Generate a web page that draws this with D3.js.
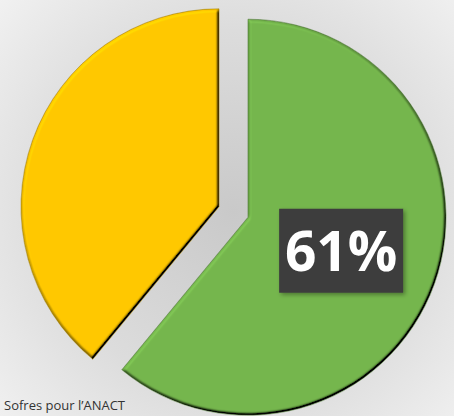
<!DOCTYPE html>
<html><head><meta charset="utf-8">
<script src="https://cdn.jsdelivr.net/npm/d3@7"></script>
<style>html,body{margin:0;padding:0;background:#eee;}svg{display:block;}</style>
</head><body>
<script>
const categories = ["Oui", "Non"];
const values = [61, 39];
const labels = ["61%", ""];
const colors = ["#75b64d", "#ffc800"];
const source = "Sofres pour l\u2019ANACT";

const W = 454, H = 416;
const cx = 233.5, cy = 212, R = 198, explode = 15.4;

const svg = d3.select("body").append("svg").attr("width", W).attr("height", H);
const defs = svg.append("defs");
const bg = defs.append("radialGradient").attr("id", "bg").attr("gradientUnits", "userSpaceOnUse")
  .attr("cx", cx).attr("cy", cy).attr("r", 330);
bg.append("stop").attr("offset", "0").attr("stop-color", "#c9c9c9");
bg.append("stop").attr("offset", "0.55").attr("stop-color", "#dcdcdc");
bg.append("stop").attr("offset", "1").attr("stop-color", "#f3f3f3");

const f = defs.append("filter").attr("id", "bevel").attr("x", "-10%").attr("y", "-10%").attr("width", "120%").attr("height", "120%");
f.append("feGaussianBlur").attr("in", "SourceAlpha").attr("stdDeviation", 1.8).attr("result", "blur");
f.append("feDiffuseLighting").attr("in", "blur").attr("surfaceScale", 5).attr("diffuseConstant", 1)
  .attr("lighting-color", "#fff").attr("result", "light")
  .append("feDistantLight").attr("azimuth", 235).attr("elevation", 55);
f.append("feComposite").attr("in", "SourceGraphic").attr("in2", "light").attr("operator", "arithmetic")
  .attr("k1", 1 / Math.sin(55 * Math.PI / 180)).attr("k2", 0).attr("k3", 0).attr("k4", 0).attr("result", "lit");
f.append("feComposite").attr("in", "lit").attr("in2", "SourceAlpha").attr("operator", "in");

const sh = defs.append("filter").attr("id", "shadow").attr("x", "-20%").attr("y", "-20%").attr("width", "140%").attr("height", "140%");
sh.append("feDropShadow").attr("dx", 2).attr("dy", 2).attr("stdDeviation", 2).attr("flood-color", "#000").attr("flood-opacity", 0.35);

svg.append("rect").attr("width", W).attr("height", H).attr("fill", "url(#bg)");

const pie = d3.pie().sort(null).value(d => d)(values);
const arc = d3.arc().innerRadius(0).outerRadius(R);

const g = svg.append("g").attr("transform", `translate(${cx},${cy})`);
const slices = g.selectAll("g.slice").data(pie).join("g").attr("class", "slice")
  .attr("transform", d => {
    const a = (d.startAngle + d.endAngle) / 2;
    return `translate(${Math.sin(a) * explode},${-Math.cos(a) * explode})`;
  });
slices.append("path").attr("d", arc).attr("fill", (d, i) => colors[i])
  .attr("filter", "url(#bevel)");
slices.append("path").attr("d", arc).attr("fill", "none")
  .attr("stroke", (d, i) => d3.color(colors[i]).darker(1.2)).attr("stroke-width", 0.8).attr("stroke-opacity", 0.7);

const lab = slices.filter((d, i) => labels[i]).append("g")
  .attr("transform", d => `translate(${arc.centroid(d)})`);
lab.append("rect").attr("x", -62).attr("y", -42).attr("width", 124).attr("height", 84)
  .attr("fill", "#3d3d3d").attr("filter", "url(#shadow)");
lab.append("text").attr("text-anchor", "middle").attr("dy", "0.36em")
  .attr("font-family", "Open Sans, sans-serif").attr("font-weight", "bold").attr("font-size", 55)
  .attr("fill", "#fff").text((d) => labels[d.index]);

svg.append("text").attr("x", 4).attr("y", 410).attr("font-family", "Open Sans, sans-serif")
  .attr("font-size", 13).attr("fill", "#333").text(source);
</script>
</body></html>
